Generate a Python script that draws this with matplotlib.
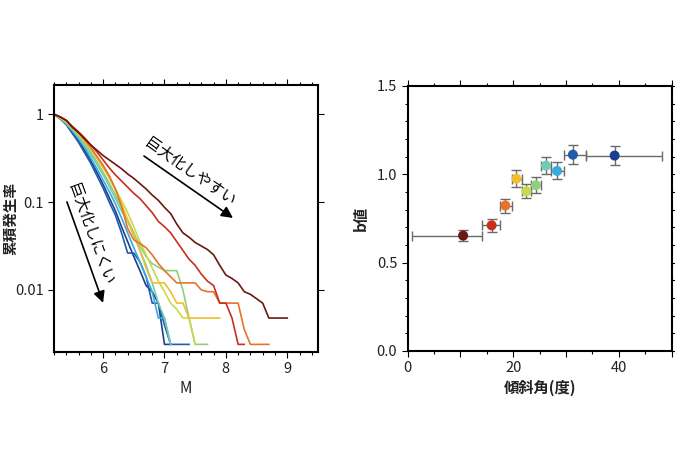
import numpy as np
import matplotlib.pyplot as plt
from matplotlib.ticker import MultipleLocator, FixedLocator, NullLocator

plt.rcParams['font.family'] = ['Noto Sans CJK JP', 'DejaVu Sans']

# ── left panel: cumulative rate vs magnitude (0.1 bins) ──
mag = [5.2, 5.3, 5.4, 5.5, 5.6, 5.7, 5.8, 5.9, 6.0, 6.1,
       6.2, 6.3, 6.4, 6.5, 6.6, 6.7, 6.8, 6.9, 7.0, 7.1,
       7.2, 7.3, 7.4, 7.5, 7.6, 7.7, 7.8, 7.9, 8.0, 8.1,
       8.2, 8.3, 8.4, 8.5, 8.6, 8.7, 8.8, 8.9, 9.0]

# log10 of cumulative rate, shallow dip (dark red) -> steep dip (dark blue)
lr_darkred = [0, -0.03, -0.07, -0.15, -0.21, -0.28, -0.35, -0.41, -0.47, -0.52,
              -0.57, -0.62, -0.68, -0.73, -0.79, -0.85, -0.92, -0.98, -1.06, -1.13,
              -1.25, -1.35, -1.40, -1.46, -1.50, -1.54, -1.60, -1.72, -1.83, -1.87,
              -1.92, -2.02, -2.05, -2.10, -2.15, -2.32, -2.32, -2.32, -2.32]
lr_red = [0, -0.03, -0.07, -0.14, -0.20, -0.27, -0.35, -0.43, -0.52, -0.61,
          -0.69, -0.76, -0.83, -0.90, -0.96, -1.04, -1.12, -1.22, -1.28, -1.35,
          -1.45, -1.55, -1.65, -1.72, -1.82, -1.90, -1.95, -2.15, -2.15, -2.32,
          -2.62, -2.62]
lr_orange = [0, -0.03, -0.07, -0.14, -0.21, -0.29, -0.38, -0.48, -0.58, -0.70,
             -0.85, -1.05, -1.30, -1.43, -1.47, -1.52, -1.60, -1.70, -1.78, -1.85,
             -1.92, -1.92, -1.92, -1.92, -2.00, -2.02, -2.02, -2.15, -2.15, -2.15,
             -2.15, -2.45, -2.62, -2.62, -2.62, -2.62]
lr_yellow = [0, -0.04, -0.08, -0.15, -0.22, -0.30, -0.39, -0.49, -0.60, -0.72,
             -0.86, -1.02, -1.20, -1.38, -1.55, -1.75, -1.92, -1.92, -1.92, -2.02,
             -2.15, -2.15, -2.32, -2.32, -2.32, -2.32, -2.32, -2.32]
lr_ygreen = [0, -0.04, -0.09, -0.16, -0.23, -0.31, -0.40, -0.50, -0.61, -0.72,
             -0.85, -0.98, -1.12, -1.28, -1.45, -1.60, -1.75, -1.90, -2.02, -2.15,
             -2.22, -2.32, -2.32, -2.62]
lr_lgreen = [0, -0.04, -0.09, -0.16, -0.24, -0.33, -0.43, -0.54, -0.66, -0.78,
             -0.92, -1.06, -1.20, -1.35, -1.50, -1.62, -1.70, -1.74, -1.78, -1.78,
             -1.78, -2.00, -2.32, -2.62, -2.62, -2.62]
lr_teal = [0, -0.04, -0.10, -0.18, -0.26, -0.36, -0.46, -0.57, -0.69, -0.82,
           -0.96, -1.10, -1.22, -1.38, -1.55, -1.72, -1.92, -2.15, -2.32, -2.62]
lr_lblue = [0, -0.05, -0.11, -0.19, -0.28, -0.38, -0.50, -0.62, -0.75, -0.88,
            -1.02, -1.18, -1.35, -1.52, -1.68, -1.85, -2.02, -2.32, -2.32, -2.62]
lr_blue = [0, -0.05, -0.12, -0.22, -0.32, -0.44, -0.56, -0.70, -0.84, -1.00,
           -1.15, -1.35, -1.58, -1.58, -1.68, -1.85, -2.15, -2.15, -2.40, -2.62,
           -2.62, -2.62, -2.62]
lr_darkblue = [0, -0.05, -0.11, -0.20, -0.30, -0.41, -0.53, -0.66, -0.80, -0.95,
               -1.10, -1.28, -1.45, -1.62, -1.78, -1.95, -2.02, -2.15, -2.62, -2.62]

class_colors = ['#6b1712', '#c8301e', '#e8722a', '#f2bd2c', '#c6da4c',
                '#90cf7c', '#6fcbb2', '#3aa9e2', '#1f5caa', '#1b3f90']
curves = [lr_darkred, lr_red, lr_orange, lr_yellow, lr_ygreen,
          lr_lgreen, lr_teal, lr_lblue, lr_blue, lr_darkblue]

# ── right panel: b-value vs dip angle ──
dip = [10.5, 15.9, 18.5, 20.6, 22.5, 24.3, 26.2, 28.3, 31.3, 39.2]
dip_lo = [0.8, 14.0, 17.4, 19.7, 21.6, 23.4, 25.3, 27.2, 29.6, 33.8]
dip_hi = [14.0, 17.4, 19.7, 21.6, 23.4, 25.3, 27.2, 29.6, 33.8, 48.1]
b_value = [0.653, 0.711, 0.823, 0.975, 0.904, 0.938, 1.049, 1.019, 1.111, 1.106]
b_err = [0.031, 0.035, 0.040, 0.047, 0.040, 0.045, 0.050, 0.048, 0.052, 0.052]

m_ticks = [6, 7, 8, 9]
rate_ticks = [1, 0.1, 0.01]
rate_labels = ['1', '0.1', '0.01']
dip_ticks = [0, 10, 20, 30, 40, 50]
dip_labels = ['0', '', '20', '', '40', '']
b_ticks = [0.0, 0.5, 1.0, 1.5]
b_labels = ['0.0', '0.5', '1.0', '1.5']

txt = '#222222'

fig = plt.figure(figsize=(6.75, 4.5), dpi=100)
ax1 = fig.add_axes([0.080, 0.218, 0.391, 0.593])
ax2 = fig.add_axes([0.604, 0.220, 0.391, 0.589])

for ax in (ax1, ax2):
    for sp in ax.spines.values():
        sp.set_linewidth(1.5)
    ax.tick_params(which='both', direction='out', top=True, right=True,
                   labelsize=10.5, labelcolor=txt, width=0.8)
    ax.tick_params(which='major', length=4)
    ax.tick_params(which='minor', length=2.5)

# cumulative curves
for vals, col in zip(curves[::-1], class_colors[::-1]):
    ax1.plot(mag[:len(vals)], 10 ** np.array(vals), color=col, lw=1.2)

ax1.set_yscale('log')
ax1.set_xlim(5.2, 9.5)
ax1.set_ylim(0.00197, 2.15)
ax1.xaxis.set_major_locator(FixedLocator(m_ticks))
ax1.xaxis.set_minor_locator(MultipleLocator(0.2))
ax1.yaxis.set_major_locator(FixedLocator(rate_ticks))
ax1.set_yticklabels(rate_labels)
ax1.yaxis.set_minor_locator(NullLocator())
ax1.set_xlabel('M', fontsize=11, color=txt, labelpad=3)
ax1.set_ylabel('累積発生率', fontsize=10.5, fontweight='bold', color=txt)
ax1.yaxis.set_label_coords(-0.135, 0.5)

ax1.annotate('', xy=(0.678, 0.502), xytext=(0.341, 0.734), xycoords='axes fraction',
             arrowprops=dict(arrowstyle='-|>', color='black', lw=1.2,
                             mutation_scale=17, shrinkA=0, shrinkB=0))
ax1.text(0.515, 0.676, '巨大化しやすい', transform=ax1.transAxes, rotation=-35,
         rotation_mode='anchor', ha='center', va='center', fontsize=11, color='black')
ax1.annotate('', xy=(0.186, 0.184), xytext=(0.049, 0.562), xycoords='axes fraction',
             arrowprops=dict(arrowstyle='-|>', color='black', lw=1.2,
                             mutation_scale=17, shrinkA=0, shrinkB=0))
ax1.text(0.140, 0.440, '巨大化しにくい', transform=ax1.transAxes, rotation=-70,
         rotation_mode='anchor', ha='center', va='center', fontsize=11, color='black')

# b-value points
xerr = [np.array(dip) - np.array(dip_lo), np.array(dip_hi) - np.array(dip)]
ax2.errorbar(dip, b_value, xerr=xerr, yerr=b_err, fmt='none', ecolor='#6a6a6a',
             elinewidth=1.0, capsize=3.5, capthick=1.0, zorder=2)
ax2.scatter(dip, b_value, s=52, c=class_colors, edgecolors='none', zorder=3)

ax2.set_xlim(0, 50)
ax2.set_ylim(0, 1.5)
ax2.xaxis.set_major_locator(FixedLocator(dip_ticks))
ax2.set_xticklabels(dip_labels)
ax2.xaxis.set_minor_locator(MultipleLocator(5))
ax2.yaxis.set_major_locator(FixedLocator(b_ticks))
ax2.set_yticklabels(b_labels)
ax2.yaxis.set_minor_locator(MultipleLocator(0.1))
ax2.set_xlabel('傾斜角(度)', fontsize=11, fontweight='bold', color=txt, labelpad=3)
ax2.set_ylabel('b値', fontsize=11, fontweight='bold', color=txt, labelpad=6)

fig.savefig('out.png', dpi=100, facecolor='white')
